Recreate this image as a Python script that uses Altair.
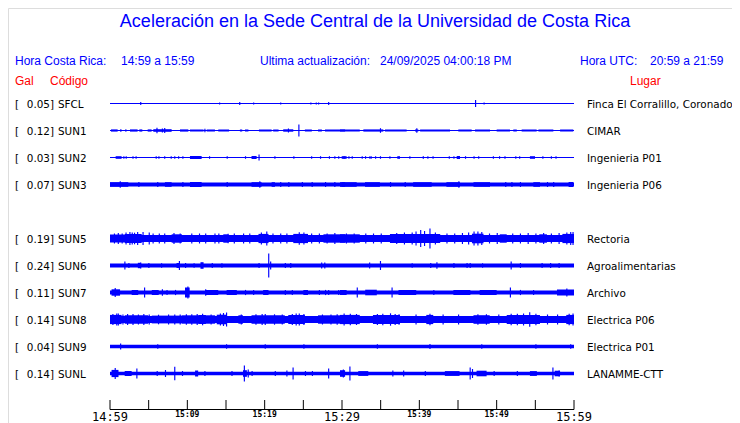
import altair as alt
import pandas as pd

# ---------------- data ----------------
codes = ["SFCL", "SUN1", "SUN2", "SUN3", "SUN5", "SUN6", "SUN7", "SUN8", "SUN9", "SUNL"]
rows = [0, 1, 2, 3, 5, 6, 7, 8, 9, 10]
peak_gal = ["0.05", "0.12", "0.03", "0.07", "0.19", "0.24", "0.11", "0.14", "0.04", "0.14"]
places = ["Finca El Corralillo, Coronado", "CIMAR", "Ingenieria P01", "Ingenieria P06",
          "Rectoria", "Agroalimentarias", "Archivo", "Electrica P06", "Electrica P01", "LANAMME-CTT"]

# baseline half-amplitude of each trace (display px)
base_amp = [0.5, 0.6, 0.5, 1.9, 3.4, 2.0, 2.0, 3.4, 1.8, 1.7]

# bursts: (start minute, end minute, half-amplitude)
bursts = {
    "SFCL": [],
    "SUN1": [(0.13, 0.99, 1.1), (1.29, 1.5, 1.1), (1.94, 2.15, 1.1), (2.58, 3.57, 1.1), (3.79, 4.18, 1.1),
             (4.87, 5.38, 1.1), (5.6, 7.97, 1.3), (9.05, 10.13, 1.1), (10.34, 12.1, 1.0), (12.5, 13.57, 1.0),
             (14.0, 15.4, 1.0), (16.8, 17.1, 1.0), (17.45, 17.9, 1.0), (19.26, 20.9, 1.0), (21.1, 21.8, 1.0),
             (22.4, 23.7, 1.2), (25.2, 26.1, 1.0), (26.9, 27.4, 1.0), (27.8, 30.4, 1.0), (29.74, 32.3, 1.0),
             (32.76, 35.34, 1.1), (35.56, 38.36, 1.0), (39.44, 39.87, 1.0), (40.1, 43.97, 1.0),
             (45.04, 46.77, 1.0), (47.2, 49.14, 1.0), (50.0, 51.72, 1.0), (52.15, 52.6, 1.0),
             (53.23, 55.17, 1.0), (55.4, 57.33, 1.0), (58.2, 59.9, 1.0)],
    "SUN2": [(0.73, 1.5, 1.3), (10.34, 11.85, 1.5), (18.3, 18.96, 1.5), (29.96, 30.6, 1.3),
             (37.15, 37.5, 1.3), (40.43, 40.6, 1.3), (44.83, 45.26, 1.5), (54.3, 54.96, 1.3)],
    "SUN3": [(0.0, 2.37, 2.3), (7.1, 7.97, 2.3), (10.34, 11.85, 2.5), (18.3, 19.6, 2.3), (20.9, 21.33, 2.3),
             (29.95, 30.4, 2.3), (29.74, 31.9, 2.3), (32.97, 34.9, 2.3), (39.2, 41.6, 2.3), (43.5, 45.26, 2.3),
             (47.0, 49.14, 2.3), (54.74, 55.6, 2.3), (59.3, 59.9, 2.5)],
    "SUN5": [(0.0, 1.9, 4.0), (1.9, 4.1, 4.6), (7.97, 9.3, 4.2), (14.65, 15.3, 4.2), (19.2, 20.5, 4.6),
             (23.7, 25.6, 4.6), (27.6, 30.4, 4.2), (29.74, 32.3, 4.2), (36.2, 42.7, 4.4), (46.8, 48.3, 4.8),
             (50.4, 51.3, 4.2), (55.5, 56.5, 4.2), (58.5, 60.0, 4.6)],
    "SUN6": [(3.6, 4.0, 2.7), (8.6, 9.0, 2.5), (11.7, 12.1, 3.3)],
    "SUN7": [(0.2, 1.3, 3.2), (2.8, 3.65, 2.5), (5.4, 6.3, 2.5), (9.7, 10.3, 5.0), (12.3, 14.0, 2.5),
             (15.08, 16.4, 2.5), (19.8, 20.5, 2.5), (25.0, 25.6, 2.5), (29.74, 30.6, 2.5), (33.0, 34.5, 2.8),
             (37.3, 39.6, 2.5), (44.4, 46.6, 2.5), (47.8, 50.0, 2.5), (57.8, 60.0, 3.0)],
    "SUN8": [(0.0, 1.5, 4.6), (1.9, 4.95, 4.2), (5.4, 9.3, 3.9), (9.3, 11.4, 4.2), (11.4, 12.4, 4.5),
             (12.3, 13.6, 4.2), (13.8, 15.1, 4.8), (16.6, 17.2, 4.2), (18.3, 22.6, 4.3), (23.05, 25.2, 4.5),
             (26.9, 30.4, 4.2), (29.74, 32.3, 4.6), (34.0, 37.5, 4.5), (40.9, 41.8, 4.6), (47.0, 49.1, 4.3),
             (51.3, 55.6, 4.6), (59.0, 60.0, 4.6)],
    "SUN9": [],
    "SUNL": [(0.2, 1.1, 3.6), (1.9, 2.8, 2.5), (11.0, 11.4, 3.0), (17.2, 17.7, 3.3), (29.74, 30.4, 3.3),
             (32.1, 33.4, 2.4), (43.3, 45.2, 2.4), (47.4, 48.7, 2.8), (54.3, 55.2, 2.4), (57.5, 58.2, 2.8)],
}

# spikes: (minute, half-amplitude)
spikes = {
    "SFCL": [(3.9, 1.5), (14.1, 1.0), (16.7, 1.5), (18.5, 1.0), (22.0, 1.0), (25.9, 1.0), (26.6, 1.0),
             (26.9, 1.0), (28.2, 1.5), (47.2, 3.5), (48.3, 1.0)],
    "SUN1": [(6.0, 2.7), (6.7, 2.0), (7.0, 2.5), (12.2, 1.8), (23.0, 2.0), (24.35, 6.0), (34.9, 2.3),
             (39.6, 2.2)],
    "SUN2": [(1.72, 1.3), (2.02, 1.3), (2.9, 1.3), (3.3, 1.3), (5.9, 1.3), (6.25, 1.3), (7.0, 1.3),
             (7.84, 1.3), (8.3, 1.3), (8.8, 1.3), (9.35, 1.3), (12.8, 1.3), (15.08, 1.3), (17.45, 1.3),
             (19.2, 3.0), (21.25, 1.3), (23.7, 1.3), (26.0, 1.3), (27.15, 1.3), (28.3, 1.3), (29.0, 1.3),
             (29.5, 1.3), (30.2, 1.3), (30.82, 1.3), (31.25, 1.3), (32.54, 1.3), (32.97, 1.3), (33.53, 1.3),
             (33.7, 1.3), (34.27, 1.3), (34.9, 1.3), (36.12, 1.3), (38.7, 1.3), (41.03, 1.3), (41.7, 1.3),
             (43.8, 1.3), (44.4, 1.3), (45.9, 1.3), (47.0, 1.3), (47.6, 1.3), (49.5, 1.3), (50.3, 1.3),
             (51.0, 1.3), (52.4, 1.3), (52.9, 1.3), (55.9, 1.3), (57.0, 1.3), (57.6, 1.3)],
    "SUN3": [(1.25, 3.2), (3.66, 2.5), (6.1, 2.5), (9.35, 2.5), (15.08, 2.5), (19.3, 3.2), (22.0, 2.5),
             (23.05, 2.5), (24.8, 2.5), (26.07, 2.5), (27.8, 2.5), (29.0, 2.5), (36.2, 2.5), (38.1, 2.5),
             (45.04, 3.3), (51.1, 2.5), (51.9, 2.5), (53.0, 2.5), (56.5, 2.5), (57.3, 2.5)],
    "SUN5": [(0.5, 5.0), (1.0, 5.5), (1.5, 5.0), (2.0, 6.0), (2.5, 6.5), (2.8, 6.0), (3.1, 5.8), (3.5, 6.5),
             (4.2, 6.5), (5.0, 6.0), (5.5, 5.0), (6.3, 5.0), (7.0, 5.0), (8.2, 5.5), (9.0, 5.0),
             (10.5, 5.0), (11.5, 5.0), (12.3, 5.0), (13.5, 5.0), (14.0, 5.0), (15.2, 4.8), (16.0, 5.0),
             (17.2, 5.0), (18.0, 5.0), (19.5, 6.0), (20.2, 7.0), (21.0, 5.0), (22.0, 5.0), (22.8, 5.0),
             (24.4, 6.2), (25.0, 6.0), (26.0, 5.0), (27.0, 5.0), (28.0, 5.0), (29.0, 5.5), (30.5, 5.0),
             (31.5, 5.0), (33.0, 5.0), (34.0, 5.0), (35.0, 5.0), (37.0, 5.5), (38.0, 6.0), (39.0, 6.0),
             (39.5, 7.0), (40.1, 8.5), (40.6, 7.5), (41.3, 10.0), (42.0, 6.0), (43.5, 5.0), (44.5, 5.0),
             (45.5, 5.5), (46.3, 6.0), (47.0, 7.0), (47.5, 7.0), (48.0, 6.5), (49.0, 5.0), (50.0, 5.5),
             (52.0, 5.0), (53.0, 5.0), (54.0, 5.5), (55.0, 5.0), (56.0, 5.5), (57.0, 5.0), (58.0, 5.5),
             (59.0, 6.0), (59.5, 6.5), (59.8, 6.5)],
    "SUN6": [(1.85, 4.0), (2.37, 2.5), (3.9, 3.0), (4.95, 2.5), (6.6, 2.2), (8.9, 4.5), (9.7, 2.5),
             (10.8, 2.2), (13.15, 2.5), (14.4, 2.2), (19.2, 2.5), (20.45, 12.0), (20.7, 4.0), (22.6, 2.5),
             (23.3, 2.5), (27.3, 3.0), (27.7, 3.0), (33.5, 3.0), (34.9, 4.5), (39.0, 2.2), (41.4, 2.5),
             (42.2, 3.2), (44.4, 2.5), (46.1, 2.5), (46.5, 2.5), (48.1, 2.2), (51.8, 4.0), (53.0, 2.5),
             (55.8, 2.5), (56.9, 2.5), (58.0, 2.5)],
    "SUN7": [(0.6, 4.5), (4.4, 5.0), (6.7, 3.3), (7.3, 2.6), (8.4, 2.6), (10.0, 6.0), (12.3, 3.3),
             (17.45, 2.6), (18.5, 2.6), (22.6, 2.6), (23.5, 2.6), (27.0, 2.6), (27.8, 2.6), (28.2, 2.6),
             (29.5, 2.6), (31.9, 5.0), (36.4, 5.0), (41.8, 2.6), (51.7, 5.0), (53.0, 2.6), (54.7, 2.6),
             (59.0, 4.0)],
    "SUN8": [(0.3, 5.5), (0.8, 6.0), (1.0, 6.0), (1.6, 5.0), (2.2, 5.5), (2.9, 5.5), (3.6, 5.0), (4.3, 5.5),
             (5.0, 5.0), (6.2, 4.8), (7.5, 5.0), (8.3, 5.0), (9.0, 5.0), (9.8, 5.2), (10.5, 5.2),
             (11.2, 5.5), (11.9, 5.8), (13.0, 5.0), (14.2, 6.0), (14.6, 6.5), (15.0, 7.0), (16.9, 5.0),
             (18.8, 5.2), (19.6, 5.5), (20.0, 5.5), (21.2, 5.2), (22.2, 5.0), (23.5, 5.5), (24.0, 6.0),
             (24.4, 6.0), (25.0, 5.5), (27.4, 5.0), (28.5, 5.0), (29.3, 5.2), (30.2, 6.0), (31.0, 5.8),
             (31.8, 5.5), (34.5, 5.5), (35.2, 5.8), (36.2, 6.2), (36.8, 5.5), (37.3, 5.2), (39.5, 5.0),
             (41.3, 5.8), (43.0, 5.0), (45.0, 5.0), (47.5, 5.2), (48.6, 5.2), (50.2, 5.0), (51.8, 5.8),
             (52.6, 5.8), (53.4, 6.0), (54.2, 7.3), (55.0, 5.8), (56.5, 5.0), (57.8, 5.0), (59.3, 5.8),
             (59.8, 6.0)],
    "SUN9": [(1.3, 3.0), (6.1, 2.3), (15.0, 2.2), (20.0, 2.2), (25.0, 2.2), (34.5, 2.2), (41.3, 2.5),
             (48.0, 2.2), (55.0, 2.2), (59.5, 2.2)],
    "SUNL": [(0.6, 5.5), (3.4, 5.0), (6.03, 2.5), (7.1, 3.5), (8.3, 6.7), (9.3, 2.5), (12.2, 2.5),
             (15.7, 2.5), (17.3, 8.0), (17.8, 4.0), (18.3, 2.5), (21.3, 2.5), (22.8, 3.0), (23.6, 6.0),
             (25.2, 2.5), (26.1, 2.5), (28.2, 5.0), (30.1, 4.0), (30.95, 7.0), (36.5, 3.0), (37.9, 3.0),
             (40.7, 2.5), (46.5, 6.0), (46.8, 4.5), (49.6, 2.5), (52.6, 2.5), (57.2, 6.0), (58.0, 3.0)],
}

tick_minutes = list(range(0, 61, 5))
major_minutes = [0, 30, 60]
major_labels = ["14:59", "15:29", "15:59"]
minor_minutes = [10, 20, 40, 50]
minor_labels = ["15:09", "15:19", "15:39", "15:49"]

# ---------------- build tables ----------------
ROW_PX = 27.0
SPIKE_W = 0.15
recs = []
for code, row, b in zip(codes, rows, base_amp):
    recs.append(dict(x=0.0, x2=60.0, y=row - b / ROW_PX, y2=row + b / ROW_PX))
    for (m0, m1, a) in bursts[code]:
        recs.append(dict(x=m0, x2=m1, y=row - a / ROW_PX, y2=row + a / ROW_PX))
    for (m, a) in spikes[code]:
        recs.append(dict(x=m, x2=m + SPIKE_W, y=row - a / ROW_PX, y2=row + a / ROW_PX))
trace_df = pd.DataFrame(recs)

label_df = pd.DataFrame({"row": rows, "code": codes, "val": [v + "]" for v in peak_gal],
                         "place": places, "br": ["["] * len(rows)})

W, H = 724, 415
xs = alt.Scale(domain=[0, 60], range=[102, 566])
ys = alt.Scale(domain=[0, 11], range=[95.5, 392.5])
BLUE = "#0000ff"
RED = "#ff0000"

traces = alt.Chart(trace_df).mark_rect(color=BLUE, strokeWidth=0).encode(
    x=alt.X("x:Q", scale=xs, axis=None),
    x2="x2:Q",
    y=alt.Y("y:Q", scale=ys, axis=None),
    y2="y2:Q",
)


def row_text(field, xpos, align, font="DejaVu Sans", size=10.4, color="black"):
    return alt.Chart(label_df).mark_text(
        align=align, baseline="middle", font=font, fontSize=size, color=color, dy=1
    ).encode(text=f"{field}:N", x=alt.value(xpos), y=alt.Y("row:Q", scale=ys, axis=None))


lbl_br = row_text("br", 7, "left")
lbl_val = row_text("val", 46, "right")
lbl_code = row_text("code", 50, "left")
lbl_place = row_text("place", 579, "left")


def fixed_text(txt, xpos, ypos, color, size, font="Liberation Sans", align="left"):
    return alt.Chart(pd.DataFrame({"t": [txt]})).mark_text(
        align=align, baseline="middle", font=font, fontSize=size, color=color
    ).encode(text="t:N", x=alt.value(xpos), y=alt.value(ypos))


title = fixed_text("Aceleración en la Sede Central de la Universidad de Costa Rica", 367, 14, BLUE, 18,
                   align="center")
h1 = fixed_text("Hora Costa Rica:", 7, 53, BLUE, 12)
h2 = fixed_text("14:59 a 15:59", 113, 53, BLUE, 12)
h3 = fixed_text("Ultima actualización:", 252, 53, BLUE, 12)
h4 = fixed_text("24/09/2025 04:00:18 PM", 372, 53, BLUE, 12)
h5 = fixed_text("Hora UTC:", 572, 53, BLUE, 12)
h6 = fixed_text("20:59 a 21:59", 642, 53, BLUE, 12)
r1 = fixed_text("Gal", 7, 73, RED, 12)
r2 = fixed_text("Código", 42, 73, RED, 12)
r3 = fixed_text("Lugar", 622, 73, RED, 12)

axis_df = pd.DataFrame({"x": [0], "x2": [60]})
axis_line = alt.Chart(axis_df).mark_rule(color="black", strokeWidth=1).encode(
    x=alt.X("x:Q", scale=xs, axis=None), x2="x2:Q", y=alt.value(401.5))
ticks = alt.Chart(pd.DataFrame({"m": tick_minutes})).mark_rule(color="black", strokeWidth=1).encode(
    x=alt.X("m:Q", scale=xs, axis=None), y=alt.value(392), y2=alt.value(401.5))
maj = alt.Chart(pd.DataFrame({"m": major_minutes, "t": major_labels})).mark_text(
    font="DejaVu Sans Mono", fontSize=12, baseline="middle", align="center", color="black").encode(
    x=alt.X("m:Q", scale=xs, axis=None), y=alt.value(409), text="t:N")
mnr = alt.Chart(pd.DataFrame({"m": minor_minutes, "t": minor_labels})).mark_text(
    font="DejaVu Sans Mono", fontSize=8, fontWeight="bold", baseline="middle", align="center",
    color="black").encode(
    x=alt.X("m:Q", scale=xs, axis=None), y=alt.value(407), text="t:N")

chart = alt.layer(
    traces, lbl_br, lbl_val, lbl_code, lbl_place,
    title, h1, h2, h3, h4, h5, h6, r1, r2, r3,
    axis_line, ticks, maj, mnr,
).properties(
    width=W, height=H, autosize=alt.AutoSizeParams(type="none"), padding=0,
).configure_view(stroke=None).configure(background="white")

chart.save("out.html", embed_options={"renderer": "svg", "actions": False})
